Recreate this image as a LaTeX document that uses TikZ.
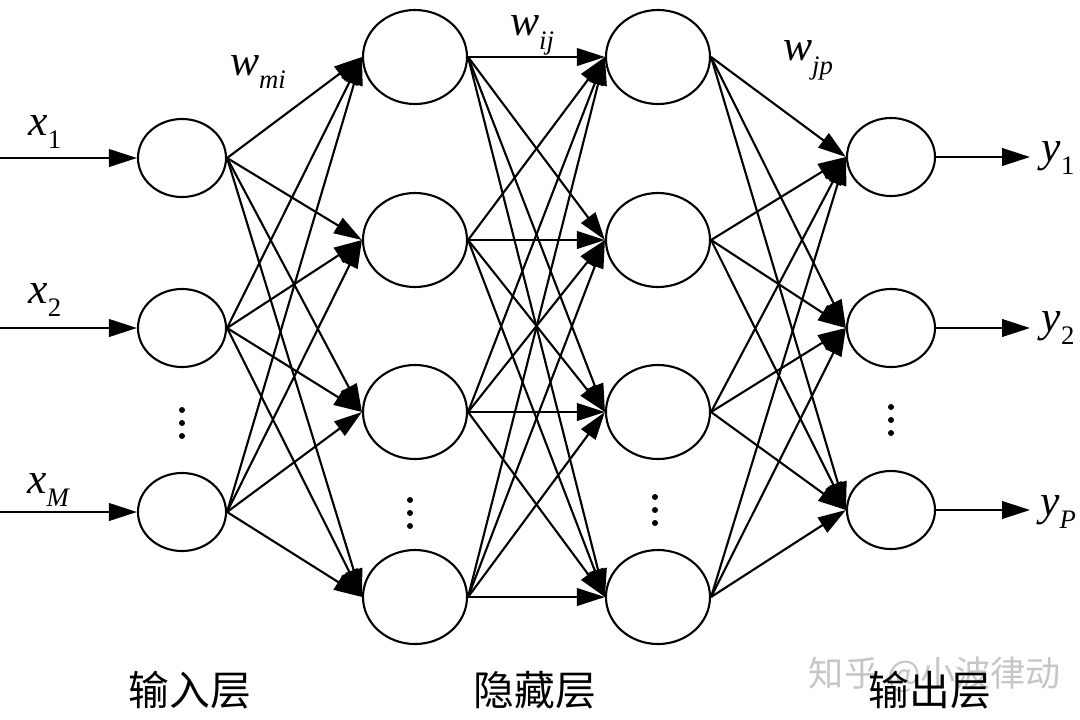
\documentclass[tikz,border=0pt]{standalone}
\usepackage{fontspec}
\setmainfont{Liberation Serif}[ItalicFont={Liberation Serif Italic}]
\newfontfamily\cjk{Noto Sans CJK SC}
\usetikzlibrary{arrows.meta,shapes.geometric}

% italic symbol with a lowered index
\newcommand{\vlab}[2]{{\itshape #1}\raisebox{-0.32em}{\fontsize{19}{19}\selectfont #2}}

\begin{document}
\begin{tikzpicture}[
  x=0.025cm, y=-0.025cm,
  line width=1.5pt,
  every node/.style={inner sep=0pt},
  neuron/.style={draw, ellipse, fill=white, minimum width=2.2cm, minimum height=1.95cm},
  hidden/.style={neuron, minimum width=2.6cm, minimum height=2.35cm},
  link/.style={-{Triangle[length=7mm, width=4.4mm]}},
  sym/.style={font=\fontsize{31}{31}\selectfont},
  layer/.style={font=\cjk\fontsize{29}{29}\selectfont},
  wmark/.style={font=\cjk\fontsize{25}{25}\selectfont, text=gray!45},
]
\useasboundingbox (0,0) rectangle (1080,719);

% neurons
\foreach \i/\y in {1/158, 2/328, 3/512}
  \node[neuron] (in\i) at (182,\y) {};
\foreach \i/\y in {1/57, 2/240, 3/412, 4/597} {
  \node[hidden] (ha\i) at (415,\y) {};
  \node[hidden] (hb\i) at (658,\y) {};
}
\foreach \i/\y in {1/157, 2/328, 3/510}
  \node[neuron] (out\i) at (891,\y) {};

% full connections between the layers
\foreach \a in {1,2,3}
  \foreach \b in {1,2,3,4}
    \draw[link] (in\a.east) -- (ha\b.west);
\foreach \a in {1,2,3,4}
  \foreach \b in {1,2,3,4}
    \draw[link] (ha\a.east) -- (hb\b.west);
\foreach \a in {1,2,3,4}
  \foreach \b in {1,2,3}
    \draw[link] (hb\a.east) -- (out\b.west);

% inputs and outputs
\foreach \i/\y in {1/158, 2/328, 3/512} {
  \coordinate (src\i) at (0,\y);
  \draw[link] (src\i) -- (in\i.west);
}
\foreach \i/\y in {1/157, 2/328, 3/510} {
  \coordinate (dst\i) at (1030,\y);
  \draw[link] (out\i.east) -- (dst\i);
}

% vertical dots
\foreach \x/\y in {182/423, 410/513, 655/510, 891/420}
  \foreach \d in {-13,0,13}
    \fill (\x,\y+\d) circle[radius=0.075cm];

% symbols
\node[sym] (x1) at (45,132) {\vlab{x}{1}};
\node[sym] (x2) at (45,300) {\vlab{x}{2}};
\node[sym] (xM) at (48,490) {\vlab{x}{\itshape M}};
\node[sym] (y1) at (1058,158) {\vlab{y}{1}};
\node[sym] (y2) at (1058,328) {\vlab{y}{2}};
\node[sym] (yP) at (1058,512) {\vlab{y}{\itshape P}};
\node[sym] (wmi) at (258,72) {\vlab{w}{\itshape mi}};
\node[sym] (wij) at (532,35) {\vlab{w}{\itshape ij}};
\node[sym] (wjp) at (808,60) {\vlab{w}{\itshape jp}};

% layer names
\node[wmark] (zhihu) at (935,675) {知乎 @小波律动};
\node[layer] (inname) at (190,690) {输入层};
\node[layer] (hidname) at (535,690) {隐藏层};
\node[layer] (outname) at (930,690) {输出层};
\end{tikzpicture}
\end{document}
